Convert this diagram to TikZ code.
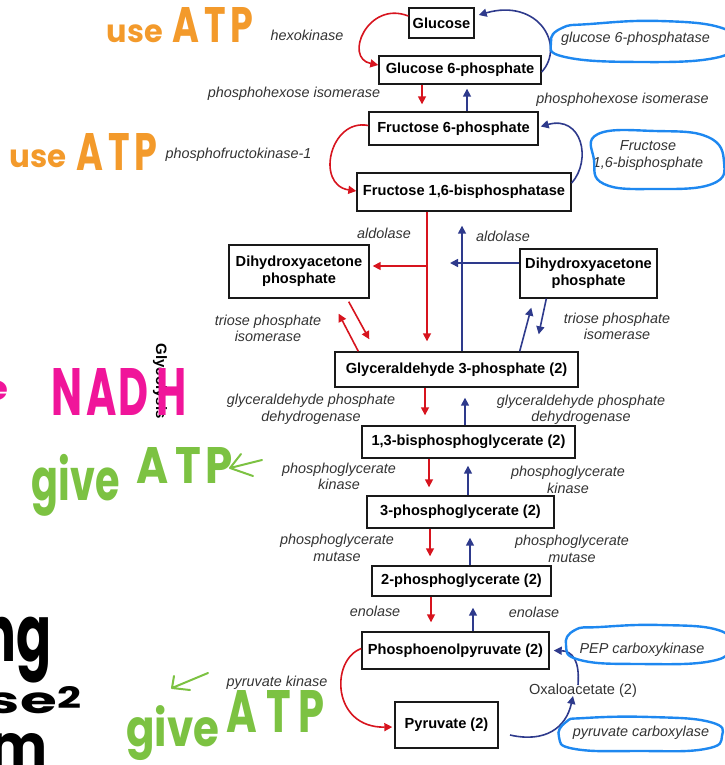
\documentclass[tikz,border=0pt]{standalone}
\usepackage{fontspec}
\setmainfont{Liberation Sans}
\newfontfamily\hand{Poppins}
\usetikzlibrary{arrows.meta}
\definecolor{rd}{HTML}{D7141E}
\definecolor{bl}{HTML}{2E3A8C}
\definecolor{lbl}{HTML}{333333}
\definecolor{hl}{HTML}{1E88F0}
\definecolor{orng}{HTML}{F39A2B}
\definecolor{mag}{HTML}{F0159A}
\definecolor{grn}{HTML}{7CC242}
\newcommand{\hwtext}[3]{\resizebox*{#1pt}{#2pt}{\hand\bfseries #3}}
\tikzset{
  box/.style={draw=black!90, line width=1.4pt, inner sep=0pt, align=center,
    font=\fontsize{14.6}{17}\selectfont\bfseries},
  lab/.style={text=lbl, align=center, inner sep=0pt,
    font=\fontsize{14.4}{16.5}\selectfont\itshape},
  rarr/.style={draw=rd, line width=1.6pt, -{Triangle[length=8pt,width=8pt]}},
  barr/.style={draw=bl, line width=1.6pt, -{Triangle[length=8pt,width=8pt]}},
  hlt/.style={draw=hl, line width=2.4pt},
  hw/.style={inner sep=0pt, outer sep=0pt},
  hwline/.style={line width=2pt, line cap=round, line join=round},
}
\begin{document}
\begin{tikzpicture}[x=1pt,y=-1pt]
\useasboundingbox (0,0) rectangle (724,765);
% boxes
\node[box, minimum width=65pt, minimum height=30pt] (glc) at (441.5,23) {Glucose};
\node[box, minimum width=162pt, minimum height=28pt] (g6p) at (460,70) {Glucose 6-phosphate};
\node[box, minimum width=169pt, minimum height=33pt] (f6p) at (453.5,128.5) {Fructose 6-phosphate};
\node[box, minimum width=214pt, minimum height=38pt] (f16) at (464,192) {Fructose 1,6-bisphosphatase};
\node[box, minimum width=140pt, minimum height=53pt] (dhapL) at (299,271.5) {Dihydroxyacetone\\phosphate};
\node[box, minimum width=137pt, minimum height=49pt] (dhapR) at (588.5,273.5) {Dihydroxyacetone\\phosphate};
\node[box, minimum width=243pt, minimum height=35pt] (g3p) at (456.5,369.5) {Glyceraldehyde 3-phosphate (2)};
\node[box, minimum width=213pt, minimum height=32pt] (bpg) at (468.5,442) {1,3-bisphosphoglycerate (2)};
\node[box, minimum width=187pt, minimum height=32pt] (pg3) at (460.5,512) {3-phosphoglycerate (2)};
\node[box, minimum width=179pt, minimum height=30pt] (pg2) at (461.5,581) {2-phosphoglycerate (2)};
\node[box, minimum width=187pt, minimum height=37pt] (pep) at (455.5,650.5) {Phosphoenolpyruvate (2)};
\node[box, minimum width=103pt, minimum height=46pt] (pyr) at (446.5,725) {Pyruvate (2)};
\node[inner sep=0pt, text=lbl, font=\fontsize{14.6}{17}\selectfont] (oaa) at (583,691) {Oxaloacetate (2)};
% labels
\node[lab] (l1) at (307,35) {hexokinase};
\node[lab] (l2) at (294,94) {phosphohexose isomerase};
\node[lab] (l3) at (238.5,155) {phosphofructokinase-1};
\node[lab] (l4) at (635.5,39) {glucose 6-phosphatase};
\node[lab] (l5) at (622.5,100) {phosphohexose isomerase};
\node[lab] (l6) at (648,155.5) {Fructose\\1,6-bisphosphate};
\node[lab] (l7) at (384,233) {aldolase};
\node[lab] (l8) at (503,236) {aldolase};
\node[lab] (l9) at (268,328.5) {triose phosphate\\isomerase};
\node[lab] (l10) at (617,326.5) {triose phosphate\\isomerase};
\node[lab] (l11) at (311,409.5) {glyceraldehyde phosphate\\dehydrogenase};
\node[lab] (l12) at (581,410) {glyceraldehyde phosphate\\dehydrogenase};
\node[lab] (l13) at (339,476.5) {phosphoglycerate\\kinase};
\node[lab] (l14) at (568,480) {phosphoglycerate\\kinase};
\node[lab] (l15) at (337,548) {phosphoglycerate\\mutase};
\node[lab] (l16) at (572,549) {phosphoglycerate\\mutase};
\node[lab] (l17) at (375,611) {enolase};
\node[lab] (l18) at (534,612) {enolase};
\node[lab] (l19) at (642,650) {PEP carboxykinase};
\node[lab] (l20) at (641,733) {pyruvate carboxylase};
\node[lab] (l21) at (277,683) {pyruvate kinase};
\node[rotate=-90, inner sep=0pt, font=\fontsize{15}{17}\selectfont\bfseries] (gly) at (160,381) {Glycolysis};
% curved arrows
\draw[rarr] ([yshift=7pt]glc.west) .. controls (368,0) and (343,58) .. ([yshift=5pt]g6p.west);
\draw[barr] ([yshift=-2pt]g6p.east) .. controls (566,45) and (538,-2) .. ([xshift=4pt,yshift=8pt]glc.east);
\draw[rarr] ([yshift=3pt]f6p.west) .. controls (330,118) and (315,185) .. ([yshift=1pt]f16.west);
\draw[barr] ([yshift=9pt]f16.east) .. controls (592,160) and (582,115) .. ([xshift=2pt,yshift=2pt]f6p.east);
\draw[rarr] ([yshift=2pt]pep.west) .. controls (330,660) and (332,728) .. ([xshift=-2pt,yshift=-2pt]pyr.west);
\coordinate (pyrout) at (510,735);
\draw[barr] (pyrout) .. controls (545,743) and (566,728) .. ([xshift=-10pt,yshift=-12pt]oaa.north);
\draw[barr] ([xshift=-5pt,yshift=-1pt]oaa.north) .. controls (580,660) and (572,651) .. ([xshift=4pt]pep.east);
% straight arrows
\draw[rarr, shorten >=7pt] (g6p.south -| 422,0) -- (f6p.north -| 422,0);
\draw[barr, shorten >=4pt] (f6p.north -| 467,0) -- (g6p.south -| 467,0);
\draw[rarr, shorten >=10pt] (f16.south -| 427,0) -- (g3p.north -| 427,0);
\draw[barr, shorten >=14pt] (g3p.north -| 462,0) -- (f16.south -| 462,0);
\coordinate (ald) at (427,266);
\draw[rarr, shorten >=3pt] (ald) -- (dhapL.east |- ald);
\coordinate (aldb) at (450,263);
\draw[barr] (dhapR.west |- aldb) -- (aldb);
\draw[rarr] ([xshift=-21pt,yshift=-3pt]dhapL.south east) -- ([xshift=35pt,yshift=12pt]g3p.north west);
\draw[rarr] ([xshift=24pt]g3p.north west) -- ([xshift=-31pt,yshift=-15pt]dhapL.south east);
\draw[barr] ([xshift=-59pt]g3p.north east) -- ([xshift=12pt,yshift=-9pt]dhapR.south west);
\draw[barr] ([xshift=27pt]dhapR.south west) -- ([xshift=-40pt,yshift=17pt]g3p.north east);
\draw[rarr, shorten >=10pt] (g3p.south -| 425,0) -- (bpg.north -| 425,0);
\draw[barr, shorten >=10pt] (bpg.north -| 465,0) -- (g3p.south -| 465,0);
\draw[rarr, shorten >=8pt] (bpg.south -| 429,0) -- (pg3.north -| 429,0);
\draw[barr, shorten >=7pt] (pg3.north -| 468,0) -- (bpg.south -| 468,0);
\draw[rarr, shorten >=9pt] (pg3.south -| 430,0) -- (pg2.north -| 430,0);
\draw[barr, shorten >=9pt] (pg2.north -| 470,0) -- (pg3.south -| 470,0);
\draw[rarr, shorten >=9pt] (pg2.south -| 431,0) -- (pep.north -| 431,0);
\draw[barr, shorten >=11pt] (pep.north -| 473,0) -- (pg2.south -| 473,0);
% highlight loops
\draw[hlt] plot[smooth cycle, tension=0.8] coordinates {(590,24) (660,21) (722,28) (730,44) (715,58) (640,62) (565,57) (551,42) (562,28)};
\draw[hlt] plot[smooth cycle, tension=0.75] coordinates {(598,134) (655,131) (708,137) (724,162) (712,184) (655,189) (604,184) (594,160)};
\draw[hlt] plot[smooth cycle, tension=0.8] coordinates {(600,627) (660,625) (718,630) (728,646) (712,661) (640,664) (580,660) (566,645) (575,630)};
\draw[hlt] plot[smooth cycle, tension=0.8] coordinates {(585,718) (650,717) (710,722) (722,736) (705,749) (640,751) (575,749) (559,737) (566,722)};
% handwriting
\node[hw, text=orng] (h1a) at (135,34) {\hwtext{56}{18}{use}};
\node[hw, text=orng] (h1b) at (213,25.5) {\hwtext{80}{35}{A\hspace{0.12em}T\hspace{0.12em}P}};
\node[hw, text=orng] (h2a) at (38,159) {\hwtext{57}{18}{use}};
\node[hw, text=orng] (h2b) at (117,151.5) {\hwtext{80}{37}{A\hspace{0.12em}T\hspace{0.12em}P}};
\node[hw, text=mag] (h3a) at (-4,391) {\hwtext{26}{20}{e}};
\node[hw, text=mag] (h3b) at (119.5,391.5) {\hwtext{135}{47}{N\hspace{0.08em}A\hspace{0.05em}D\hspace{0.2em}H}};
\node[hw, text=grn] (h4a) at (76,485) {\hwtext{88}{62}{give}};
\node[hw, text=grn] (h4b) at (185,465) {\hwtext{96}{36}{A\hspace{0.15em}T\hspace{0.1em}P}};
\coordinate (g1s) at (262,460);
\coordinate (g1e) at (230,468);
\draw[grn, hwline] (g1s) -- (g1e) -- (241,454) (g1e) -- (253,476);
\node[hw, text=grn] (h5a) at (173,733) {\hwtext{93}{55}{give}};
\node[hw, text=grn] (h5b) at (276,711) {\hwtext{98}{42}{A\hspace{0.2em}T\hspace{0.2em}P}};
\coordinate (g2s) at (208,673);
\coordinate (g2e) at (172,688);
\draw[grn, hwline] (g2s) -- (g2e) -- (174,676) (g2e) -- (190,690);
\node[hw, text=black] (h6a) at (17,650) {\hwtext{70}{66}{ng}};
\node[hw, text=black] (h6b) at (22,703) {\hwtext{70}{21}{se}};
\node[hw, text=black] (h6c) at (70,697) {\hwtext{24}{22}{2}};
\node[hw, text=black] (h6d) at (19,749) {\hwtext{58}{32}{m}};
\end{tikzpicture}
\end{document}
